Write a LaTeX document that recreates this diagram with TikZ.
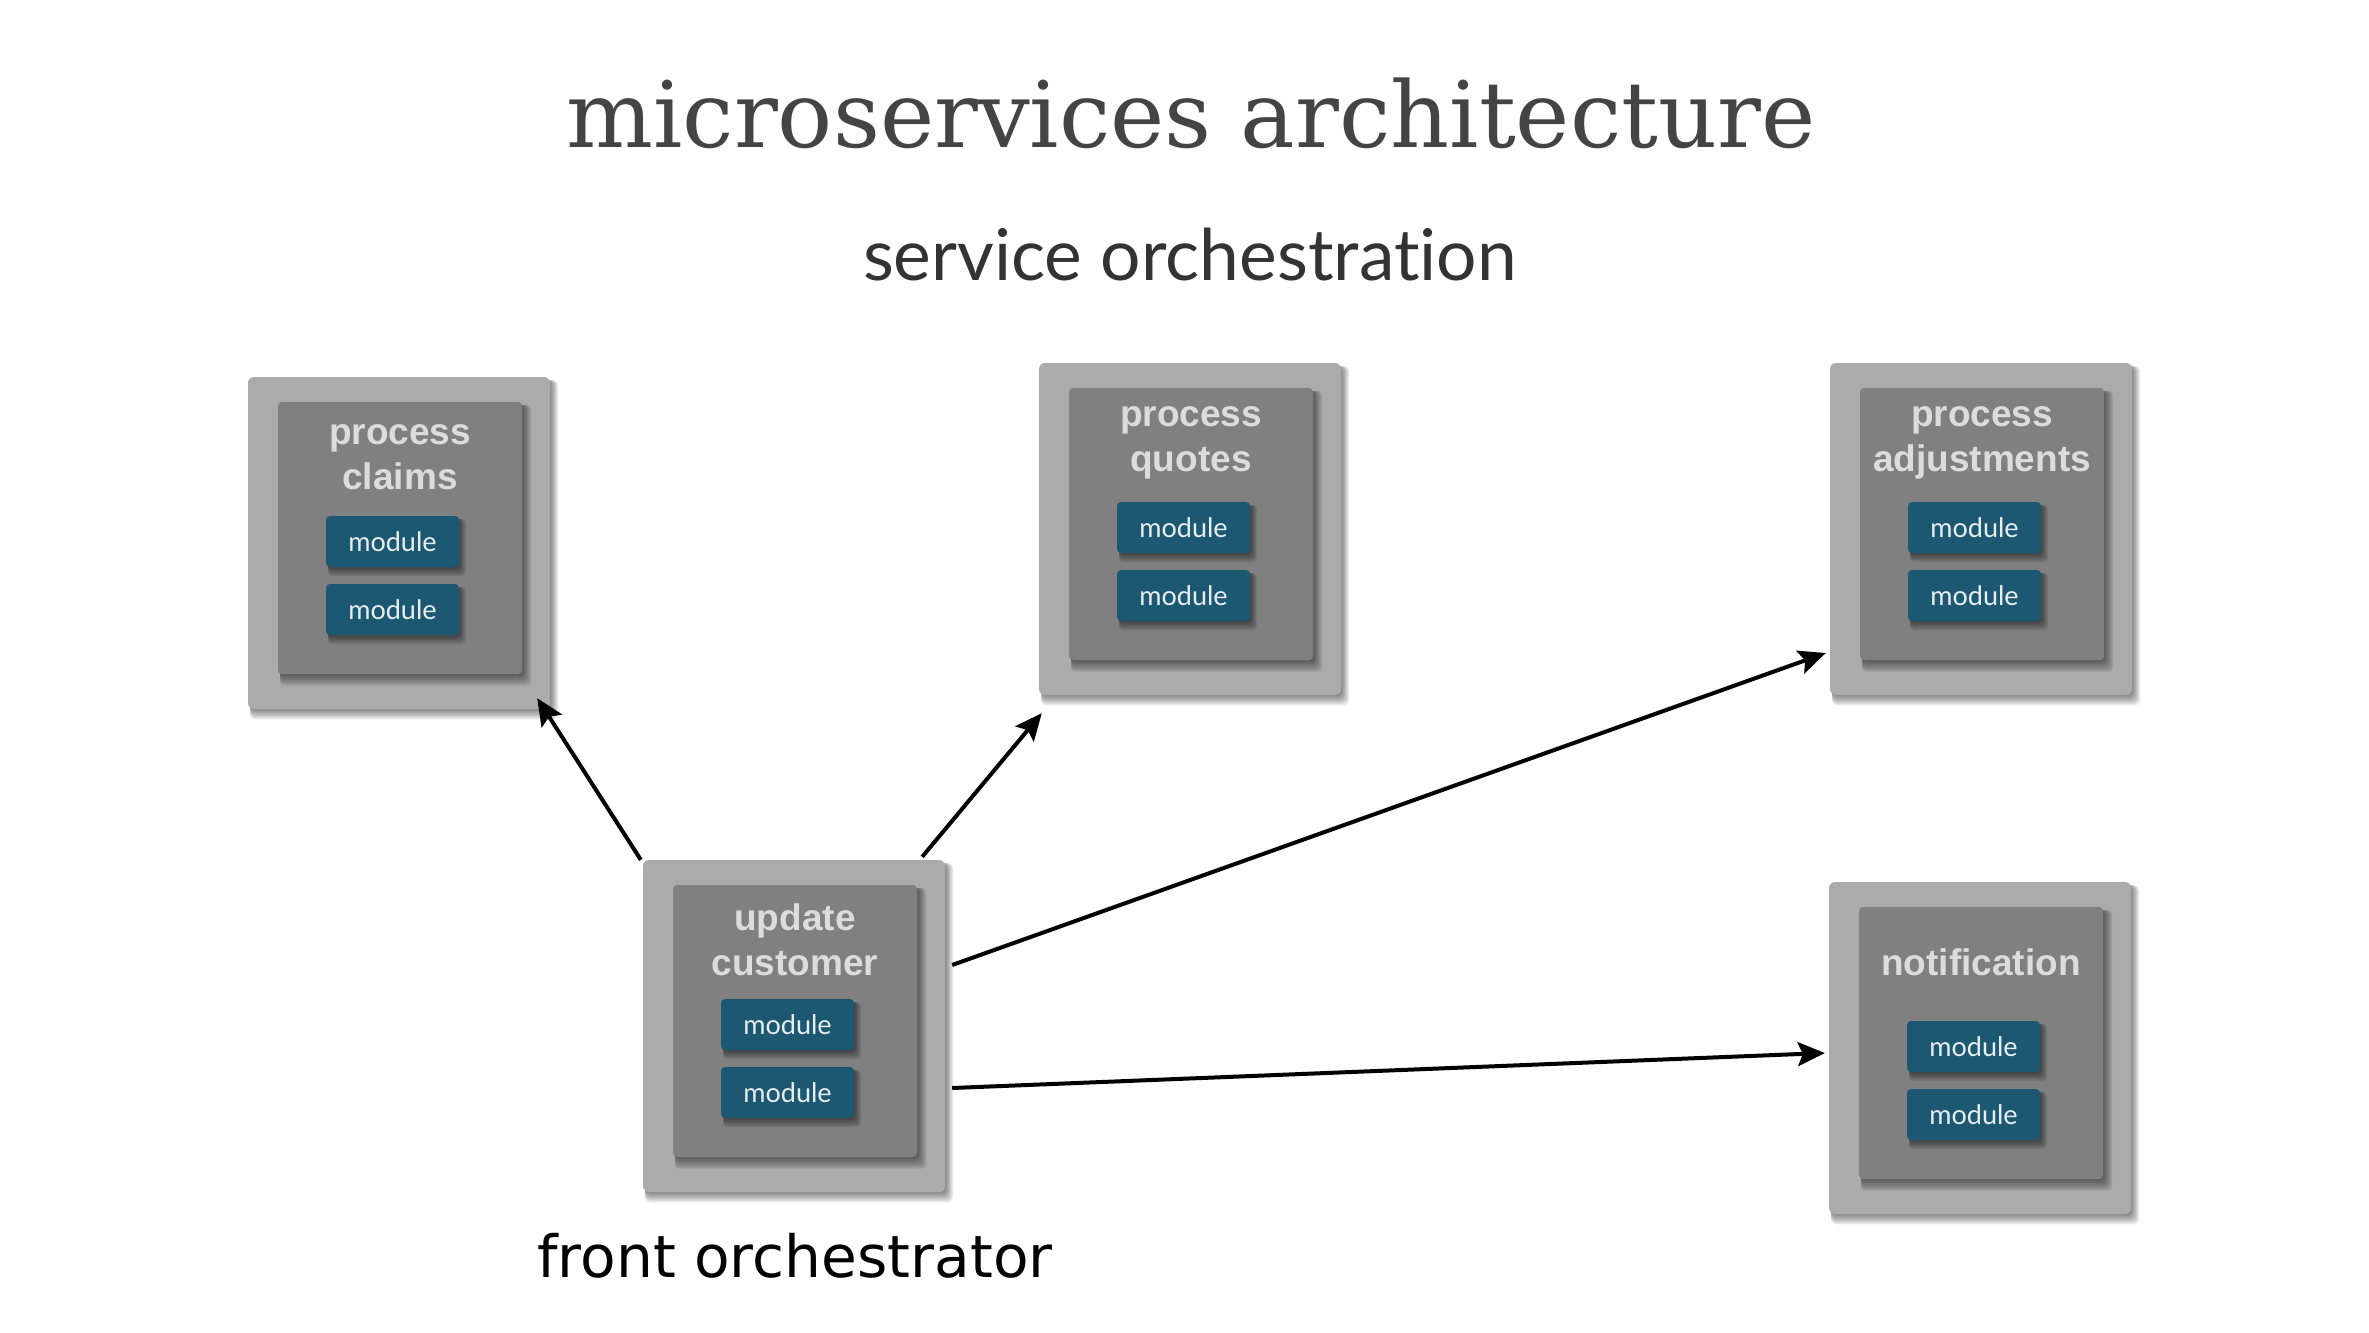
\documentclass[tikz,border=0pt]{standalone}
\usepackage{fontspec}
\usepackage{graphicx}
\usetikzlibrary{arrows.meta,calc}
\setmainfont{DejaVu Serif}
\newfontfamily\labfont{Liberation Sans}
\newfontfamily\modfont{Lato}
\newfontfamily\subfont[Ligatures=NoCommon]{Lato}
\newfontfamily\handfont{DejaVu Sans}
\definecolor{outerc}{HTML}{ABABAB}
\definecolor{innerc}{HTML}{808080}
\definecolor{modc}{HTML}{1C5872}
\definecolor{modtext}{HTML}{E6EEF0}
\definecolor{labc}{HTML}{DCDCDC}
\definecolor{titlec}{HTML}{444444}
\definecolor{subc}{HTML}{333333}
% soft shadow: centre x, centre y, half width, half height, reach, radius
\newcommand\softshade[6]{%
  \foreach \k in {1,...,6}{%
    \fill[softshadow, rounded corners=#6]
      ($(#1,#2)+(-#3+2,-#4+3)$) rectangle ($(#1,#2)+(#3+#5*\k/6,#4+1.3*#5*\k/6)$);
  }%
}
\newcommand\svcbox[4]{%
  \softshade{#2}{#3}{151}{166}{8}{6pt}
  \node[outerbox] (#1) at (#2,#3) {};
  \softshade{#2+1}{#3-5}{122}{136}{9}{4pt}
  \node[innerbox] (#1in) at ($(#1)+(1,-5)$) {};
  \softshade{#2-6.5}{#3-1.5}{66.5}{25.5}{7}{4pt}
  \node[modbox] (#1ma) at ($(#1)+(-6.5,-1.5)$) {module};
  \softshade{#2-6.5}{#3+66.5}{66.5}{25.5}{7}{4pt}
  \node[modbox] (#1mb) at ($(#1)+(-6.5,66.5)$) {module};
  \node[lab] (#1lab) at ($(#1)+(1,-86)$) {#4};
}
\begin{document}
\begin{tikzpicture}[x=1pt,y=-1pt,
  softshadow/.style={fill=black, opacity=0.09},
  outerbox/.style={fill=outerc, rounded corners=6pt, minimum width=302pt, minimum height=332pt, inner sep=0pt},
  innerbox/.style={fill=innerc, rounded corners=4pt, minimum width=244pt, minimum height=272pt, inner sep=0pt},
  modbox/.style={fill=modc, rounded corners=4pt, minimum width=133pt, minimum height=51pt, inner sep=0pt,
    text=modtext, font=\modfont\fontsize{27}{32}\selectfont},
  lab/.style={text=labc, font=\labfont\bfseries\fontsize{37}{45}\selectfont, align=center, inner sep=0pt},
  arr/.style={line width=4pt, draw=black, -{Stealth[length=27pt,width=24pt,inset=5pt]}}
]
\useasboundingbox[fill=white] (0,0) rectangle (2369,1333);

\node[anchor=base, text=titlec, inner sep=0pt] (title) at (1191,147) {\resizebox{1249pt}{!}{microservices architecture}};
\node[anchor=base, text=subc, inner sep=0pt] (subtitle) at (1190,280) {\resizebox{654pt}{!}{\subfont service orchestration}};

\svcbox{pc}{399}{543}{process\\claims}
\svcbox{pq}{1190}{529}{process\\quotes}
\svcbox{pa}{1981}{529}{process\\adjustments}
\svcbox{uc}{794}{1026}{update\\customer}
\svcbox{nt}{1980}{1048}{notification}

\node[anchor=base, inner sep=0pt] (front) at (795,1277) {\resizebox{515pt}{!}{\handfont front orchestrator}};

\draw[arr] ([shift={(-2,0)}]uc.north west) -- ([shift={(-13,-11)}]pc.south east);
\draw[arr] ([shift={(-23,-3)}]uc.north east) -- ([shift={(3,18)}]pq.south west);
\draw[arr] ([shift={(7,-61)}]uc.east) -- ([shift={(-4,124)}]pa.west);
\draw[arr] ([shift={(7,62)}]uc.east) -- ([shift={(-4,5)}]nt.west);
\end{tikzpicture}
\end{document}
